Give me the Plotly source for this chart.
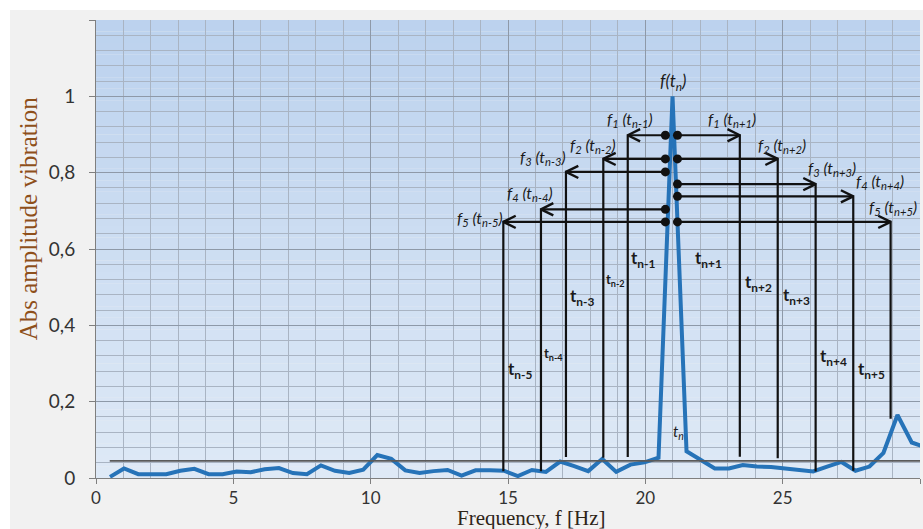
import plotly.graph_objects as go

# ---- spectrum samples (frequency bins and absolute vibration amplitude) ----
freq_hz = [0.51, 1.02, 1.54, 2.05, 2.56, 3.07, 3.58, 4.10, 4.61, 5.12,
           5.63, 6.14, 6.66, 7.17, 7.68, 8.19, 8.70, 9.22, 9.73, 10.24,
           10.75, 11.26, 11.78, 12.29, 12.80, 13.31, 13.82, 14.34, 14.85, 15.36,
           15.87, 16.38, 16.90, 17.41, 17.92, 18.43, 18.94, 19.46, 19.97, 20.48,
           20.99, 21.50, 22.02, 22.53, 23.04, 23.55, 24.06, 24.58, 25.09, 25.60,
           26.11, 26.62, 27.14, 27.65, 28.16, 28.67, 29.18, 29.70, 30.21]
amplitude = [0.003, 0.025, 0.010, 0.010, 0.010, 0.019, 0.024, 0.010, 0.010, 0.017,
             0.015, 0.023, 0.026, 0.013, 0.010, 0.033, 0.019, 0.013, 0.022, 0.060,
             0.050, 0.020, 0.013, 0.018, 0.021, 0.006, 0.020, 0.020, 0.019, 0.005,
             0.021, 0.016, 0.043, 0.031, 0.018, 0.050, 0.016, 0.035, 0.041, 0.053,
             1.000, 0.070, 0.046, 0.025, 0.025, 0.034, 0.030, 0.029, 0.025, 0.020,
             0.017, 0.030, 0.042, 0.019, 0.030, 0.066, 0.165, 0.093, 0.080]

# ---- noise threshold ----
threshold_level = 0.045
threshold_start = 0.5
threshold_end = 30.0

# ---- neighbour markers around the main peak (n-1 .. n-5 and n+1 .. n+5) ----
dot_left_x = 20.73
dot_right_x = 21.17
left_line_x = [19.36, 18.47, 17.11, 16.20, 14.83]
left_row_y = [0.898, 0.836, 0.802, 0.704, 0.671]
left_line_bottom = [0.055, 0.053, 0.055, 0.018, 0.018]
right_line_x = [23.44, 24.82, 26.20, 27.57, 28.93]
right_row_y = [0.898, 0.836, 0.770, 0.738, 0.671]
right_line_bottom = [0.056, 0.052, 0.017, 0.019, 0.155]

# ---- text labels ----
f_labels = ["f<sub>1</sub> (t<sub>n-1</sub>)", "f<sub>1</sub> (t<sub>n+1</sub>)",
            "f<sub>2</sub> (t<sub>n-2</sub>)", "f<sub>2</sub> (t<sub>n+2</sub>)",
            "f<sub>3</sub> (t<sub>n-3</sub>)", "f<sub>3</sub> (t<sub>n+3</sub>)",
            "f<sub>4</sub> (t<sub>n+4</sub>)", "f<sub>4</sub> (t<sub>n-4</sub>)",
            "f<sub>5</sub> (t<sub>n+5</sub>)", "f<sub>5</sub> (t<sub>n-5</sub>)"]
f_label_x = [19.44, 23.14, 18.10, 24.96, 16.28, 26.78, 28.54, 15.80, 29.03, 13.98]
f_label_y = [0.939, 0.939, 0.872, 0.872, 0.841, 0.811, 0.778, 0.745, 0.710, 0.681]

t_labels = ["t<sub>n-1</sub>", "t<sub>n+1</sub>", "t<sub>n-2</sub>", "t<sub>n+2</sub>",
            "t<sub>n-3</sub>", "t<sub>n+3</sub>", "t<sub>n-4</sub>", "t<sub>n+4</sub>",
            "t<sub>n-5</sub>", "t<sub>n+5</sub>"]
t_label_x = [19.93, 22.29, 18.90, 24.11, 17.68, 25.50, 16.67, 26.84, 15.43, 28.24]
t_label_y = [0.575, 0.575, 0.520, 0.511, 0.475, 0.476, 0.325, 0.316, 0.283, 0.283]
t_label_size = [17, 17, 13, 17, 17, 17, 13, 17, 17, 17]

y_tick_vals = [0, 0.2, 0.4, 0.6, 0.8, 1.0, 1.2]
y_tick_text = ["0", "0,2", "0,4", "0,6", "0,8", "1", ""]
x_tick_vals = [0, 5, 10, 15, 20, 25, 30]

X_MIN, X_MAX = 0, 30
Y_MIN, Y_MAX = 0, 1.2

LABEL_FONT = "Lato, 'Open Sans', sans-serif"
SERIF = "'Liberation Serif', 'DejaVu Serif', serif"

fig = go.Figure()

# spectrum curve
fig.add_trace(go.Scatter(
    x=freq_hz, y=amplitude, mode="lines",
    line=dict(color="#2673b8", width=4),
    hoverinfo="skip", showlegend=False, cliponaxis=True,
))

# threshold line
fig.add_trace(go.Scatter(
    x=[threshold_start, threshold_end], y=[threshold_level, threshold_level],
    mode="lines", line=dict(color="#5a5a5a", width=1.6),
    hoverinfo="skip", showlegend=False,
))

# arrows (horizontal shafts) and vertical drop lines
seg_x, seg_y = [], []
for lx, ry, lb in zip(left_line_x, left_row_y, left_line_bottom):
    seg_x += [dot_left_x, lx, lx, None]
    seg_y += [ry, ry, lb, None]
for rx, ry, rb in zip(right_line_x, right_row_y, right_line_bottom):
    seg_x += [dot_right_x, rx, rx, None]
    seg_y += [ry, ry, rb, None]
fig.add_trace(go.Scatter(
    x=seg_x, y=seg_y, mode="lines",
    line=dict(color="#111111", width=2.2),
    hoverinfo="skip", showlegend=False,
))

# open chevron arrow heads
head_dx = 0.45
head_dy = 0.016
head_x, head_y = [], []
for lx, ry in zip(left_line_x, left_row_y):
    head_x += [lx + head_dx, lx, lx + head_dx, None]
    head_y += [ry + head_dy, ry, ry - head_dy, None]
for rx, ry in zip(right_line_x, right_row_y):
    head_x += [rx - head_dx, rx, rx - head_dx, None]
    head_y += [ry + head_dy, ry, ry - head_dy, None]
fig.add_trace(go.Scatter(
    x=head_x, y=head_y, mode="lines",
    line=dict(color="#111111", width=2.4),
    hoverinfo="skip", showlegend=False,
))

# dots where each arrow starts
fig.add_trace(go.Scatter(
    x=[dot_left_x] * len(left_row_y) + [dot_right_x] * len(right_row_y),
    y=left_row_y + right_row_y, mode="markers",
    marker=dict(color="#111111", size=9),
    hoverinfo="skip", showlegend=False,
))

annotations = []
annotations.append(dict(x=21.0, y=1.037, xref="x", yref="y", showarrow=False,
                        xanchor="center", yanchor="middle",
                        text="<i>f(t<sub>n</sub>)</i>",
                        font=dict(family=LABEL_FONT, size=17, color="#1a1a1a")))
for txt, fx, fy in zip(f_labels, f_label_x, f_label_y):
    annotations.append(dict(x=fx, y=fy, xref="x", yref="y", showarrow=False,
                            xanchor="center", yanchor="middle",
                            text="<i>" + txt + "</i>",
                            font=dict(family=LABEL_FONT, size=16, color="#1a1a1a")))
for txt, tx, ty, ts in zip(t_labels, t_label_x, t_label_y, t_label_size):
    annotations.append(dict(x=tx, y=ty, xref="x", yref="y", showarrow=False,
                            xanchor="center", yanchor="middle",
                            text="<b>" + txt + "</b>",
                            font=dict(family=LABEL_FONT, size=ts, color="#1a1a1a")))
annotations.append(dict(x=21.19, y=0.12, xref="x", yref="y", showarrow=False,
                        xanchor="center", yanchor="middle",
                        text="<i>t<sub>n</sub></i>",
                        font=dict(family=LABEL_FONT, size=15, color="#1a1a1a")))

# axis titles
annotations.append(dict(x=-0.082, y=0.568, xref="paper", yref="paper", showarrow=False,
                        xanchor="center", yanchor="middle",
                        text="Abs amplitude vibration", textangle=-90,
                        font=dict(family=SERIF, size=25, color="#8e4f1a")))
annotations.append(dict(x=0.529, y=-0.087, xref="paper", yref="paper", showarrow=False,
                        xanchor="center", yanchor="middle",
                        text="Frequency, f [Hz]",
                        font=dict(family=SERIF, size=21, color="#2e2418")))

# backgrounds: light grey chart area and blue vertical gradient in the plot area
shapes = [dict(type="rect", xref="paper", yref="paper",
               x0=-0.1044, x1=1.01, y0=-0.12, y1=1.0218,
               fillcolor="#f1f1f1", line=dict(width=0), layer="below")]
top_rgb = (188, 210, 238)
bot_rgb = (222, 233, 246)
n_bands = 40
for i in range(n_bands):
    t = i / (n_bands - 1)
    r = round(bot_rgb[0] + (top_rgb[0] - bot_rgb[0]) * t)
    g = round(bot_rgb[1] + (top_rgb[1] - bot_rgb[1]) * t)
    b = round(bot_rgb[2] + (top_rgb[2] - bot_rgb[2]) * t)
    shapes.append(dict(type="rect", xref="x", yref="y",
                       x0=X_MIN, x1=X_MAX,
                       y0=Y_MIN + (Y_MAX - Y_MIN) * i / n_bands,
                       y1=Y_MIN + (Y_MAX - Y_MIN) * (i + 1) / n_bands,
                       fillcolor=f"rgb({r},{g},{b})", line=dict(width=0), layer="below"))

fig.update_layout(
    width=923, height=529,
    margin=dict(l=96, r=3, t=20, b=51),
    paper_bgcolor="white",
    plot_bgcolor="rgb(205,221,242)",
    showlegend=False,
    annotations=annotations,
    shapes=shapes,
    xaxis=dict(
        range=[X_MIN, X_MAX], tickmode="array", tickvals=x_tick_vals,
        ticks="outside", ticklen=5, tickcolor="#7f7f7f", tickwidth=1,
        showline=True, linecolor="#7f7f7f", linewidth=1, mirror=False,
        showgrid=True, gridcolor="#8e99a8", gridwidth=1, zeroline=False,
        minor=dict(tickmode="linear", tick0=0, dtick=1, showgrid=True,
                   gridcolor="#a9b4c3", gridwidth=1, ticks=""),
        tickfont=dict(family=LABEL_FONT, size=17, color="#333333"),
        ticklabelstandoff=0,
    ),
    yaxis=dict(
        range=[Y_MIN, Y_MAX], tickmode="array", tickvals=y_tick_vals, ticktext=y_tick_text,
        ticks="outside", ticklen=6, tickcolor="#7f7f7f", tickwidth=1,
        showline=True, linecolor="#7f7f7f", linewidth=1,
        showgrid=True, gridcolor="#8e99a8", gridwidth=1, zeroline=False,
        minor=dict(tickmode="linear", tick0=0, dtick=0.04, showgrid=True,
                   gridcolor="#a9b4c3", gridwidth=1, ticks=""),
        tickfont=dict(family=LABEL_FONT, size=19, color="#333333"),
        ticklabelstandoff=10,
    ),
)

fig.write_html("out.html")
